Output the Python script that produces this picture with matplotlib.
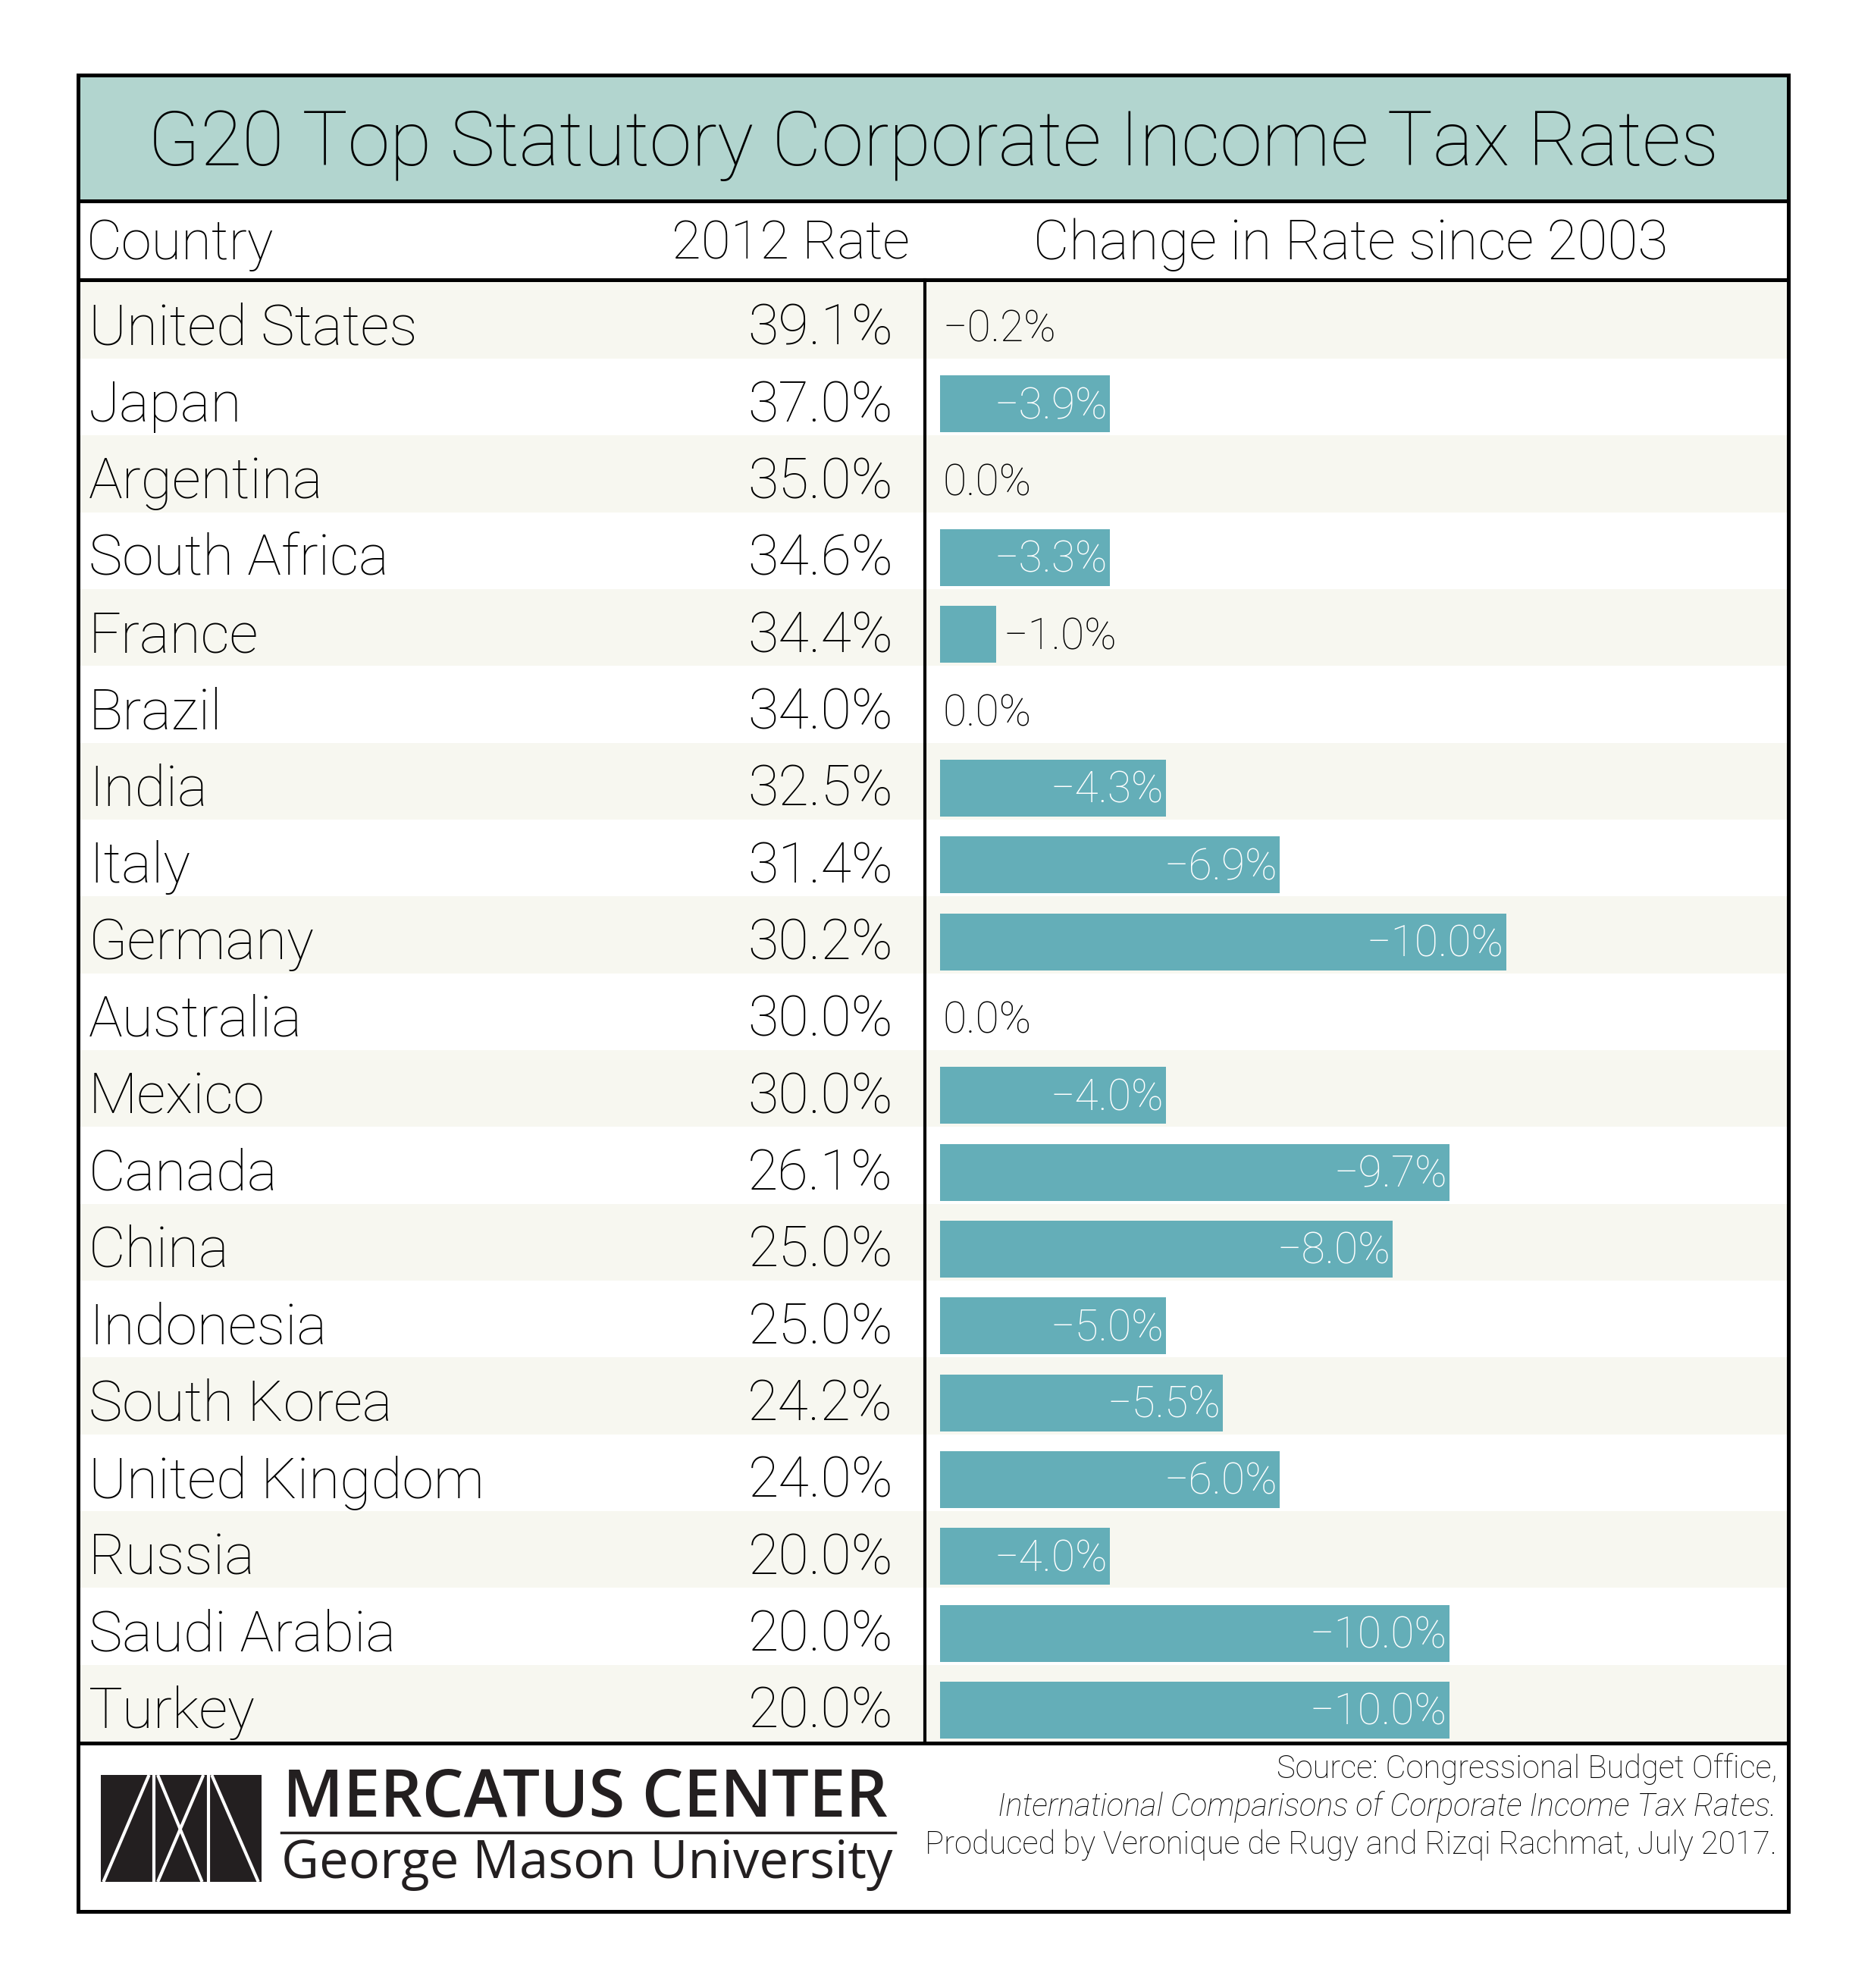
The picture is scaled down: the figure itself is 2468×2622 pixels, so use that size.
import matplotlib
matplotlib.use("Agg")
import matplotlib.pyplot as plt
from matplotlib.patches import Rectangle

plt.rcParams['font.family'] = ['Roboto', 'DejaVu Sans']

# data
countries = ["United States", "Japan", "Argentina", "South Africa", "France", "Brazil",
             "India", "Italy", "Germany", "Australia", "Mexico", "Canada", "China",
             "Indonesia", "South Korea", "United Kingdom", "Russia", "Saudi Arabia", "Turkey"]
rate_2012 = [39.1, 37.0, 35.0, 34.6, 34.4, 34.0, 32.5, 31.4, 30.2, 30.0,
             30.0, 26.1, 25.0, 25.0, 24.2, 24.0, 20.0, 20.0, 20.0]
change = [-0.2, -3.9, 0.0, -3.3, -1.0, 0.0, -4.3, -6.9, -10.0, 0.0,
          -4.0, -9.7, -8.0, -5.0, -5.5, -6.0, -4.0, -10.0, -10.0]
# bar lengths as drawn in the original graphic (whole cells, percentage points)
bar_len = [0, 3, 0, 3, 1, 0, 4, 6, 10, 0, 4, 9, 8, 4, 5, 6, 3, 9, 9]

title = "G20 Top Statutory Corporate Income Tax Rates"
headers = ["Country", "2012 Rate", "Change in Rate since 2003"]
source_lines = ["Source: Congressional Budget Office,",
                "International Comparisons of Corporate Income Tax Rates.",
                "Produced by Veronique de Rugy and Rizqi Rachmat, July 2017."]

W, H = 2468, 2622
BAR = "#64aeb8"
STRIPE = "#f7f7f0"
BAND = "#b2d5cf"
FW = "light"

fig = plt.figure(figsize=(W / 100, H / 100), dpi=100)

# table body: x in percentage points (bar origin at 0), y in rows
left, right, top, bottom = 102.5, 2359, 371.7, 2297
ax = fig.add_axes([left / W, 1 - bottom / H, (right - left) / W, (bottom - top) / H])
unit = 74.7
x0 = 1239.5
ax.set_xlim((left - x0) / unit, (right - x0) / unit)
n = len(countries)
ax.set_ylim(n - 0.5, -0.5)
ax.axis("off")

for i in range(n):
    if i % 2 == 0:
        ax.axhspan(i - 0.5, i + 0.5, color=STRIPE, lw=0, zorder=0)

rows = list(range(n))
ax.barh([r + 0.09 for r in rows], bar_len, left=0, height=0.74, color=BAR, zorder=2)

name_x = (117 - x0) / unit
rate_x = (1178 - x0) / unit
for i, (c, r, ch, bl) in enumerate(zip(countries, rate_2012, change, bar_len)):
    ax.text(name_x, i + 0.32, c, ha="left", va="baseline", fontsize=54,
            fontweight=FW, color="black")
    ax.text(rate_x, i + 0.32, f"{r:.1f}%", ha="right", va="baseline", fontsize=53,
            fontweight=FW, color="black")
    lab = f"{ch:.1f}%".replace("-", "\u2212")
    if bl >= 3:
        ax.text(bl - 0.04, i + 0.28, lab, ha="right", va="baseline", fontsize=41,
                fontweight=FW, color="white", zorder=3)
    elif bl > 0:
        ax.text(bl + 0.12, i + 0.28, lab, ha="left", va="baseline", fontsize=41,
                fontweight=FW, color="black", zorder=3)
    else:
        ax.text(0.06, i + 0.28, lab, ha="left", va="baseline", fontsize=41,
                fontweight=FW, color="black", zorder=3)

# frame, title, header and footer in pixel coordinates
fr = fig.add_axes([0, 0, 1, 1])
fr.set_xlim(0, W)
fr.set_ylim(H, 0)
fr.axis("off")
fr.patch.set_visible(False)

fr.add_patch(Rectangle((102.5, 99), 2359 - 102.5, 265 - 99, color=BAND, lw=0))
fr.text(1231, 218, title, ha="center", va="baseline", fontsize=72.5, fontweight=FW)

fr.text(114, 342, headers[0], ha="left", va="baseline", fontsize=52, fontweight=FW)
fr.text(1200, 342, headers[1], ha="right", va="baseline", fontsize=51, fontweight=FW)
fr.text(1363, 342, headers[2], ha="left", va="baseline", fontsize=52.5, fontweight=FW)

lw = 3.6
fr.plot([102.5, 102.5, 2359, 2359, 102.5], [99, 2520.5, 2520.5, 99, 99], color="black", lw=lw,
        solid_joinstyle="miter")
for yy in (265, 369, 2299):
    fr.plot([102.5, 2359], [yy, yy], color="black", lw=lw)
fr.plot([1219.5, 1219.5], [369, 2299], color="black", lw=3.0)

# logo
lx0, lx1, ly0, ly1 = 133, 345, 2341, 2482
fr.add_patch(Rectangle((lx0, ly0), lx1 - lx0, ly1 - ly0, color="#231f20", lw=0))
wl = dict(color="white", lw=3.0, solid_capstyle="butt")
lwid = lx1 - lx0
for a, b in [(0.33, 0.33), (0.67, 0.67)]:
    fr.plot([lx0 + a * lwid, lx0 + b * lwid], [ly0, ly1], **wl)
for xt, xb in [(0.30, 0.016), (0.354, 0.63), (0.638, 0.354), (0.69, 0.98)]:
    fr.plot([lx0 + xt * lwid, lx0 + xb * lwid], [ly0, ly1], **wl)
fr.text(373, 2396, "MERCATUS CENTER", ha="left", va="baseline", fontsize=62.5,
        fontweight="semibold", family=["Open Sans", "DejaVu Sans"], color="#231f20")
fr.plot([371, 1181], [2417, 2417], color="#231f20", lw=2.5)
fr.text(371, 2477, "George Mason University", ha="left", va="baseline", fontsize=49.5,
        family=["Open Sans", "DejaVu Sans"], color="#231f20")

# source
sy = [2345, 2395, 2445]
for k, (s, y) in enumerate(zip(source_lines, sy)):
    fr.text(2344, y, s, ha="right", va="baseline", fontsize=30, fontweight=FW,
            style="italic" if k == 1 else "normal")

fig.savefig("out.png", dpi=100, facecolor="white")
